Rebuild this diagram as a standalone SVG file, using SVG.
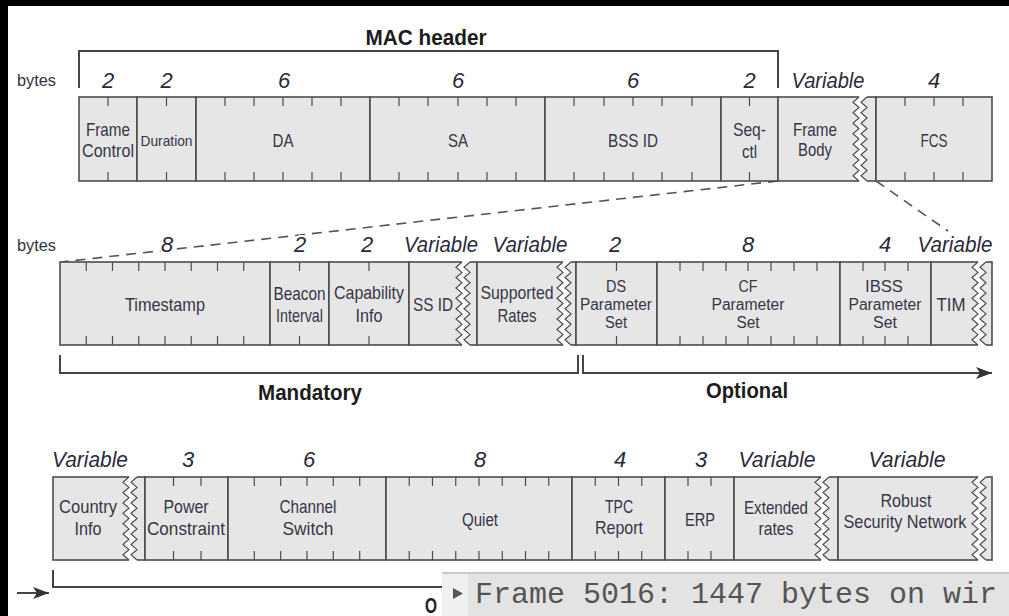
<svg xmlns="http://www.w3.org/2000/svg" xmlns:xlink="http://www.w3.org/1999/xlink" width="1009" height="616" viewBox="0 0 1009 616">
<style>
.f{fill:#e6e6e6;stroke:#4d4d4d;stroke-width:1.6}
.tk{stroke:#4d4d4d;stroke-width:1.2;fill:none}
.gap{fill:#ffffff;stroke:none}
.zz{fill:none;stroke:#4d4d4d;stroke-width:1.2}
.lb{font-family:"Liberation Sans",Arial,sans-serif;font-size:19px;fill:#363646;text-anchor:middle}
.sm{font-size:15px}
.l3{font-size:16px}
.nm{font-family:"Liberation Sans",Arial,sans-serif;font-style:italic;font-size:22px;fill:#2a2a3a;text-anchor:middle}
.halo{stroke:#ffffff;stroke-width:4;paint-order:stroke}
.hd{font-family:"Liberation Sans",Arial,sans-serif;font-weight:bold;font-size:22px;fill:#1c1c1c;text-anchor:middle}
.by{font-family:"Liberation Sans",Arial,sans-serif;font-size:17px;fill:#333340}
.cn{stroke:#444;stroke-width:2;fill:none}
.dash{stroke:#555;stroke-width:1.6;stroke-dasharray:10 7;fill:none}
.mono{font-family:"Liberation Mono","DejaVu Sans Mono",monospace;font-size:30px;fill:#555555}
</style>
<defs>
<marker id="arr" markerUnits="userSpaceOnUse" markerWidth="17" markerHeight="12" refX="16" refY="6" orient="auto">
<path d="M0,0 L16,6 L0,12 L4,6 Z" fill="#333"/>
</marker>
<path id="zz84" d="M3,0l-6 5.25 6 5.25 -6 5.25 6 5.25 -6 5.25 6 5.25 -6 5.25 6 5.25 -6 5.25 6 5.25 -6 5.25 6 5.25 -6 5.25 6 5.25 -6 5.25 6 5.25"/>
<path id="gap84" d="M3,-2V0l-6 5.25 6 5.25 -6 5.25 6 5.25 -6 5.25 6 5.25 -6 5.25 6 5.25 -6 5.25 6 5.25 -6 5.25 6 5.25 -6 5.25 6 5.25 -6 5.25 6 5.25V86H11V84l-6 -5.25 6 -5.25 -6 -5.25 6 -5.25 -6 -5.25 6 -5.25 -6 -5.25 6 -5.25 -6 -5.25 6 -5.25 -6 -5.25 6 -5.25 -6 -5.25 6 -5.25 -6 -5.25 6 -5.25V-2Z"/>
<path id="zz83" d="M3,0l-6 5.1875 6 5.1875 -6 5.1875 6 5.1875 -6 5.1875 6 5.1875 -6 5.1875 6 5.1875 -6 5.1875 6 5.1875 -6 5.1875 6 5.1875 -6 5.1875 6 5.1875 -6 5.1875 6 5.1875"/>
<path id="gap83" d="M3,-2V0l-6 5.1875 6 5.1875 -6 5.1875 6 5.1875 -6 5.1875 6 5.1875 -6 5.1875 6 5.1875 -6 5.1875 6 5.1875 -6 5.1875 6 5.1875 -6 5.1875 6 5.1875 -6 5.1875 6 5.1875V85H11V83l-6 -5.1875 6 -5.1875 -6 -5.1875 6 -5.1875 -6 -5.1875 6 -5.1875 -6 -5.1875 6 -5.1875 -6 -5.1875 6 -5.1875 -6 -5.1875 6 -5.1875 -6 -5.1875 6 -5.1875 -6 -5.1875 6 -5.1875V-2Z"/>
</defs>
<rect x="0" y="0" width="1009" height="616" fill="#ffffff"/>
<rect x="0" y="0" width="1009" height="6" fill="#000"/>
<rect x="0" y="0" width="8" height="616" fill="#000"/>

<g id="connectors">
<path class="cn" d="M79,88V51H778V88"/>
<path class="dash" d="M778,181L61,262"/>
<path class="dash" d="M876,181L948,231"/>
<path class="cn" d="M60,355V373H578V355"/>
<path class="cn" d="M583,355V373H992" marker-end="url(#arr)"/>
<path class="cn" d="M17,593H49" marker-end="url(#arr)"/>
<path class="cn" d="M53,570V587H460"/>
</g>

<g id="labels">
<text class="hd" x="426" y="45" font-size="25" textLength="121" lengthAdjust="spacingAndGlyphs">MAC header</text>
<text class="by" x="17" y="86" textLength="39" lengthAdjust="spacingAndGlyphs">bytes</text>
<text class="by" x="17" y="251" textLength="39" lengthAdjust="spacingAndGlyphs">bytes</text>
<text class="hd" x="310" y="400" textLength="104" lengthAdjust="spacingAndGlyphs">Mandatory</text>
<text class="hd" x="747" y="398" textLength="82" lengthAdjust="spacingAndGlyphs">Optional</text>
<text class="hd" x="425" y="613" font-size="20" style="text-anchor:start" textLength="12" lengthAdjust="spacingAndGlyphs">O</text>
</g>

<!-- Row 1 -->
<g id="frame-control">
<rect class="f" x="79" y="97" width="58" height="84"/>
<path class="tk" d="M108,97v9M108,181v-9"/>
<text class="nm" x="108" y="88">2</text>
<text class="lb" x="108" y="136" textLength="44" lengthAdjust="spacingAndGlyphs">Frame</text>
<text class="lb" x="108" y="157" textLength="52" lengthAdjust="spacingAndGlyphs">Control</text>
</g>
<g id="duration">
<rect class="f" x="137" y="97" width="59" height="84"/>
<path class="tk" d="M166.5,97v9M166.5,181v-9"/>
<text class="nm" x="166.5" y="88">2</text>
<text class="lb sm" x="166.5" y="146" textLength="52" lengthAdjust="spacingAndGlyphs">Duration</text>
</g>
<g id="da">
<rect class="f" x="196" y="97" width="174" height="84"/>
<path class="tk" d="M225,97v9M254,97v9M283,97v9M312,97v9M341,97v9M225,181v-9M254,181v-9M283,181v-9M312,181v-9M341,181v-9"/>
<text class="nm" x="284" y="88">6</text>
<text class="lb" x="283" y="147" textLength="21" lengthAdjust="spacingAndGlyphs">DA</text>
</g>
<g id="sa">
<rect class="f" x="370" y="97" width="175" height="84"/>
<path class="tk" d="M399,97v9M428,97v9M458,97v9M487,97v9M516,97v9M399,181v-9M428,181v-9M458,181v-9M487,181v-9M516,181v-9"/>
<text class="nm" x="458" y="88">6</text>
<text class="lb" x="458" y="147" textLength="20" lengthAdjust="spacingAndGlyphs">SA</text>
</g>
<g id="bss-id">
<rect class="f" x="545" y="97" width="176" height="84"/>
<path class="tk" d="M574,97v9M604,97v9M633,97v9M662,97v9M692,97v9M574,181v-9M604,181v-9M633,181v-9M662,181v-9M692,181v-9"/>
<text class="nm" x="633" y="88">6</text>
<text class="lb" x="633" y="147" textLength="50" lengthAdjust="spacingAndGlyphs">BSS ID</text>
</g>
<g id="seq-ctl">
<rect class="f" x="721" y="97" width="57" height="84"/>
<path class="tk" d="M749.5,97v9M749.5,181v-9"/>
<text class="nm" x="749.5" y="88">2</text>
<text class="lb" x="749.5" y="136" textLength="33" lengthAdjust="spacingAndGlyphs">Seq-</text>
<text class="lb" x="749.5" y="158" textLength="15" lengthAdjust="spacingAndGlyphs">ctl</text>
</g>
<g id="frame-body">
<rect class="f" x="778" y="97" width="98" height="84"/>
<use href="#gap84" x="856" y="97" class="gap"/>
<use href="#zz84" x="856" y="97" class="zz"/>
<use href="#zz84" x="864" y="97" class="zz"/>
<text class="nm" x="828" y="88" textLength="73" lengthAdjust="spacingAndGlyphs">Variable</text>
<text class="lb" x="815" y="136" textLength="44" lengthAdjust="spacingAndGlyphs">Frame</text>
<text class="lb" x="815" y="156" textLength="34" lengthAdjust="spacingAndGlyphs">Body</text>
</g>
<g id="fcs">
<rect class="f" x="876" y="97" width="116" height="84"/>
<path class="tk" d="M905,97v9M934,97v9M963,97v9M905,181v-9M934,181v-9M963,181v-9"/>
<text class="nm" x="934" y="88">4</text>
<text class="lb" x="934" y="147" textLength="27" lengthAdjust="spacingAndGlyphs">FCS</text>
</g>

<!-- Row 2 -->
<g id="timestamp">
<rect class="f" x="60" y="262" width="210" height="83"/>
<path class="tk" d="M86.25,262v9M112.5,262v9M138.75,262v9M165,262v9M191.25,262v9M217.5,262v9M243.75,262v9M86.25,345v-9M112.5,345v-9M138.75,345v-9M165,345v-9M191.25,345v-9M217.5,345v-9M243.75,345v-9"/>
<text class="nm halo" x="167" y="252">8</text>
<text class="lb" x="165" y="311" textLength="80" lengthAdjust="spacingAndGlyphs">Timestamp</text>
</g>
<g id="beacon-interval">
<rect class="f" x="270" y="262" width="59" height="83"/>
<path class="tk" d="M299.5,262v9M299.5,345v-9"/>
<text class="nm halo" x="300" y="252">2</text>
<text class="lb" x="299.5" y="300" textLength="52" lengthAdjust="spacingAndGlyphs">Beacon</text>
<text class="lb" x="299.5" y="322" textLength="47" lengthAdjust="spacingAndGlyphs">Interval</text>
</g>
<g id="capability-info">
<rect class="f" x="329" y="262" width="80" height="83"/>
<path class="tk" d="M369,262v9M369,345v-9"/>
<text class="nm halo" x="367" y="252">2</text>
<text class="lb" x="369" y="299" textLength="70" lengthAdjust="spacingAndGlyphs">Capability</text>
<text class="lb" x="369" y="322" textLength="27" lengthAdjust="spacingAndGlyphs">Info</text>
</g>
<g id="ss-id">
<rect class="f" x="409" y="262" width="68" height="83"/>
<use href="#gap83" x="459" y="262" class="gap"/>
<use href="#zz83" x="459" y="262" class="zz"/>
<use href="#zz83" x="467" y="262" class="zz"/>
<text class="nm halo" x="441" y="252" textLength="74" lengthAdjust="spacingAndGlyphs">Variable</text>
<text class="lb" x="433" y="311" textLength="40" lengthAdjust="spacingAndGlyphs">SS ID</text>
</g>
<g id="supported-rates">
<rect class="f" x="477" y="262" width="99" height="83"/>
<use href="#gap83" x="560" y="262" class="gap"/>
<use href="#zz83" x="560" y="262" class="zz"/>
<use href="#zz83" x="568" y="262" class="zz"/>
<text class="nm halo" x="530" y="252" textLength="75" lengthAdjust="spacingAndGlyphs">Variable</text>
<text class="lb" x="517" y="299" textLength="73" lengthAdjust="spacingAndGlyphs">Supported</text>
<text class="lb" x="517" y="322" textLength="39" lengthAdjust="spacingAndGlyphs">Rates</text>
</g>
<g id="ds-parameter-set">
<rect class="f" x="576" y="262" width="81" height="83"/>
<path class="tk" d="M616.5,262v9M616.5,345v-9"/>
<text class="nm halo" x="615" y="252">2</text>
<text class="lb l3" x="616" y="292" textLength="20" lengthAdjust="spacingAndGlyphs">DS</text>
<text class="lb l3" x="616" y="310" textLength="72" lengthAdjust="spacingAndGlyphs">Parameter</text>
<text class="lb l3" x="616" y="328" textLength="22" lengthAdjust="spacingAndGlyphs">Set</text>
</g>
<g id="cf-parameter-set">
<rect class="f" x="657" y="262" width="183" height="83"/>
<path class="tk" d="M680,262v9M703,262v9M726,262v9M748,262v9M771,262v9M794,262v9M817,262v9M680,345v-9M703,345v-9M726,345v-9M748,345v-9M771,345v-9M794,345v-9M817,345v-9"/>
<text class="nm halo" x="748" y="252">8</text>
<text class="lb l3" x="748" y="292" textLength="19" lengthAdjust="spacingAndGlyphs">CF</text>
<text class="lb l3" x="748" y="310" textLength="73" lengthAdjust="spacingAndGlyphs">Parameter</text>
<text class="lb l3" x="748" y="328" textLength="23" lengthAdjust="spacingAndGlyphs">Set</text>
</g>
<g id="ibss-parameter-set">
<rect class="f" x="840" y="262" width="91" height="83"/>
<path class="tk" d="M863,262v9M885,262v9M908,262v9M863,345v-9M885,345v-9M908,345v-9"/>
<text class="nm halo" x="885" y="252">4</text>
<text class="lb l3" x="884" y="292" textLength="38" lengthAdjust="spacingAndGlyphs">IBSS</text>
<text class="lb l3" x="885" y="310" textLength="73" lengthAdjust="spacingAndGlyphs">Parameter</text>
<text class="lb l3" x="885" y="328" textLength="24" lengthAdjust="spacingAndGlyphs">Set</text>
</g>
<g id="tim">
<rect class="f" x="931" y="262" width="61" height="83"/>
<use href="#gap83" x="975" y="262" class="gap"/>
<use href="#zz83" x="975" y="262" class="zz"/>
<use href="#zz83" x="983" y="262" class="zz"/>
<text class="nm halo" x="955" y="252" textLength="75" lengthAdjust="spacingAndGlyphs">Variable</text>
<text class="lb" x="951" y="311" textLength="29" lengthAdjust="spacingAndGlyphs">TIM</text>
</g>

<!-- Row 3 -->
<g id="country-info">
<rect class="f" x="53" y="477" width="92" height="83"/>
<use href="#gap83" x="126" y="477" class="gap"/>
<use href="#zz83" x="126" y="477" class="zz"/>
<use href="#zz83" x="134" y="477" class="zz"/>
<text class="nm" x="90" y="467" textLength="76" lengthAdjust="spacingAndGlyphs">Variable</text>
<text class="lb" x="88" y="513" textLength="58" lengthAdjust="spacingAndGlyphs">Country</text>
<text class="lb" x="88" y="535" textLength="27" lengthAdjust="spacingAndGlyphs">Info</text>
</g>
<g id="power-constraint">
<rect class="f" x="145" y="477" width="83" height="83"/>
<path class="tk" d="M173.5,477v9M201,477v9M173.5,560v-9M201,560v-9"/>
<text class="nm" x="188" y="467">3</text>
<text class="lb" x="186" y="513" textLength="45" lengthAdjust="spacingAndGlyphs">Power</text>
<text class="lb" x="186" y="535" textLength="78" lengthAdjust="spacingAndGlyphs">Constraint</text>
</g>
<g id="channel-switch">
<rect class="f" x="228" y="477" width="158" height="83"/>
<path class="tk" d="M254.3,477v9M280.7,477v9M307,477v9M333.3,477v9M359.7,477v9M254.3,560v-9M280.7,560v-9M307,560v-9M333.3,560v-9M359.7,560v-9"/>
<text class="nm" x="309" y="467">6</text>
<text class="lb" x="308" y="513" textLength="57" lengthAdjust="spacingAndGlyphs">Channel</text>
<text class="lb" x="308" y="535" textLength="51" lengthAdjust="spacingAndGlyphs">Switch</text>
</g>
<g id="quiet">
<rect class="f" x="386" y="477" width="186" height="83"/>
<path class="tk" d="M409.25,477v9M432.5,477v9M455.75,477v9M479,477v9M502.25,477v9M525.5,477v9M548.75,477v9M409.25,560v-9M432.5,560v-9M455.75,560v-9M479,560v-9M502.25,560v-9M525.5,560v-9M548.75,560v-9"/>
<text class="nm" x="480" y="467">8</text>
<text class="lb" x="480" y="526" textLength="36" lengthAdjust="spacingAndGlyphs">Quiet</text>
</g>
<g id="tpc-report">
<rect class="f" x="572" y="477" width="93" height="83"/>
<path class="tk" d="M595.25,477v9M618.5,477v9M641.75,477v9M595.25,560v-9M618.5,560v-9M641.75,560v-9"/>
<text class="nm" x="620" y="467">4</text>
<text class="lb" x="619" y="513" textLength="28" lengthAdjust="spacingAndGlyphs">TPC</text>
<text class="lb" x="619" y="534" textLength="48" lengthAdjust="spacingAndGlyphs">Report</text>
</g>
<g id="erp">
<rect class="f" x="665" y="477" width="69" height="83"/>
<path class="tk" d="M688,477v9M711,477v9M688,560v-9M711,560v-9"/>
<text class="nm" x="701" y="467">3</text>
<text class="lb" x="700" y="526" textLength="30" lengthAdjust="spacingAndGlyphs">ERP</text>
</g>
<g id="extended-rates">
<rect class="f" x="734" y="477" width="104" height="83"/>
<use href="#gap83" x="818" y="477" class="gap"/>
<use href="#zz83" x="818" y="477" class="zz"/>
<use href="#zz83" x="826" y="477" class="zz"/>
<text class="nm" x="777" y="467" textLength="77" lengthAdjust="spacingAndGlyphs">Variable</text>
<text class="lb" x="776" y="514" textLength="64" lengthAdjust="spacingAndGlyphs">Extended</text>
<text class="lb" x="776" y="535" textLength="35" lengthAdjust="spacingAndGlyphs">rates</text>
</g>
<g id="robust-security-network">
<rect class="f" x="838" y="477" width="154" height="83"/>
<use href="#gap83" x="975" y="477" class="gap"/>
<use href="#zz83" x="975" y="477" class="zz"/>
<use href="#zz83" x="983" y="477" class="zz"/>
<text class="nm" x="907" y="467" textLength="77" lengthAdjust="spacingAndGlyphs">Variable</text>
<text class="lb" x="906" y="507" textLength="51" lengthAdjust="spacingAndGlyphs">Robust</text>
<text class="lb" x="905" y="528" textLength="123" lengthAdjust="spacingAndGlyphs">Security Network</text>
</g>

<g id="overlay">
<rect x="442" y="572" width="567" height="44" fill="#e3e3e3"/>
<rect x="442" y="573" width="26" height="43" fill="#f0f0f0"/>
<line x1="442" y1="573" x2="1009" y2="573" stroke="#c9c9c9" stroke-width="2"/>
<polygon points="453,588 463,593.5 453,599" fill="#555"/>
<text class="mono" x="475" y="603">Frame 5016: 1447 bytes on wir</text>
</g>
</svg>
